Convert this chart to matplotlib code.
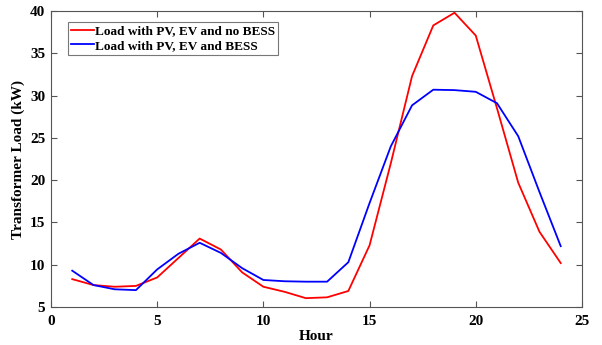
import matplotlib
matplotlib.use("Agg")
import matplotlib.pyplot as plt

hours = list(range(1, 25))
load_no_bess = [8.3, 7.6, 7.4, 7.5, 8.5, 10.8, 13.1, 11.8, 9.1, 7.4, 6.8, 6.05,
                6.15, 6.9, 12.3, 22.0, 32.3, 38.3, 39.8, 37.1, 28.5, 19.7, 13.9, 10.2]
load_bess = [9.3, 7.6, 7.1, 7.0, 9.45, 11.3, 12.6, 11.4, 9.6, 8.2, 8.05, 8.0,
             8.0, 10.3, 17.3, 24.0, 28.85, 30.7, 30.65, 30.45, 29.1, 25.2, 18.6, 12.2]

plt.rcParams['font.family'] = ['Liberation Serif', 'DejaVu Serif']
plt.rcParams['font.weight'] = 'bold'

fig = plt.figure(figsize=(6.02, 3.45), dpi=100)
ax = fig.add_axes([0.0847, 0.110, 0.882, 0.858])

ax.plot(hours, load_no_bess, color='#ff0000', lw=1.3, label='Load with PV, EV and no BESS')
ax.plot(hours, load_bess, color='#0000ff', lw=1.3, label='Load with PV, EV and BESS')

ax.set_xlim(0, 25)
ax.set_ylim(5, 40)
ax.set_xticks([0, 5, 10, 15, 20, 25])
ax.set_yticks([5, 10, 15, 20, 25, 30, 35, 40])
ax.tick_params(direction='in', top=True, right=True, labelsize=11, color='#555555',
               length=4, width=0.8, pad=4)
ax.tick_params(axis='x', pad=6)
for s in ax.spines.values():
    s.set_color('#555555')
    s.set_linewidth(0.8)
for lab in ax.get_xticklabels() + ax.get_yticklabels():
    lab.set_fontweight('bold')

ax.set_xlabel('Hour', fontsize=11, fontweight='bold', labelpad=1)
ax.set_ylabel('Transformer Load (kW)', fontsize=11, fontweight='bold', labelpad=4)

leg = ax.legend(loc='upper left', bbox_to_anchor=(0.032, 0.963), fontsize=9.5,
                frameon=True, fancybox=False, edgecolor='#555555',
                handlelength=1.7, handletextpad=0.1, borderpad=0.25,
                labelspacing=0.15, borderaxespad=0)
leg.get_frame().set_linewidth(0.8)
for t in leg.get_texts():
    t.set_fontweight('bold')

fig.savefig('out.png', dpi=100)
